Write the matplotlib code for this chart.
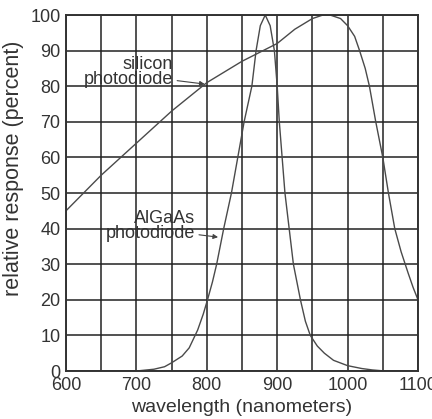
import matplotlib.pyplot as plt

plt.rcParams['font.family'] = ['Liberation Sans', 'DejaVu Sans']

# silicon photodiode response
si_nm = [600, 625, 650, 675, 700, 725, 750, 775, 800, 825, 850, 875, 900, 925,
         950, 965, 975, 990, 1000, 1010, 1017, 1025, 1031, 1040, 1050, 1058,
         1067, 1076, 1086, 1093, 1100]
si_pct = [45, 50, 55, 59.5, 64, 68.5, 73, 77, 81, 84, 87, 89.5, 92, 96,
          99, 100, 100, 99, 97, 94, 90, 85, 80, 70, 60, 50,
          40, 33.5, 27.5, 23.5, 20]

# AlGaAs photodiode response
al_nm = [700, 725, 740, 750, 765, 775, 787, 795, 801, 808, 814, 824, 835, 844,
         853, 864, 870, 876, 883, 890, 896, 900, 903, 907, 911, 917, 923, 933,
         940, 947, 957, 967, 980, 1000, 1020, 1035, 1053]
al_pct = [0, 0.5, 1.2, 2.3, 4.2, 6.5, 11.5, 16, 20, 25, 30, 40, 50, 60,
          70, 80, 90, 97, 100, 97, 90, 80, 70, 60, 50, 40, 30, 20,
          14, 10, 7, 5, 3, 1.5, 0.7, 0.3, 0]

xticks = [600, 700, 800, 900, 1000, 1100]
yticks = [0, 10, 20, 30, 40, 50, 60, 70, 80, 90, 100]

fig = plt.figure(figsize=(4.32, 4.19), dpi=100)
ax = fig.add_axes([66 / 432, 48 / 419, 352 / 432, 356 / 419])

ax.set_xlim(600, 1100)
ax.set_ylim(0, 100)
grid_x = list(range(600, 1101, 50))
ax.set_xticks(grid_x)
ax.set_xticklabels([str(v) if v in xticks else '' for v in grid_x])
ax.set_yticks(yticks)
ax.set_yticklabels([str(v) for v in yticks])
ax.grid(True, color='#222222', linewidth=1.1)
ax.set_axisbelow(True)
ax.tick_params(length=0, labelsize=13, colors='#333333', pad=4)
for s in ax.spines.values():
    s.set_color('#333333')
    s.set_linewidth(1.4)

ax.plot(si_nm, si_pct, color='#4a4a4a', linewidth=1.0)
ax.plot(al_nm, al_pct, color='#4a4a4a', linewidth=1.0)

arrow = dict(arrowstyle='-|>', color='#444444', lw=0.8, shrinkA=1, shrinkB=0,
             mutation_scale=7, relpos=(1.0, 0.25))
ax.annotate('silicon\nphotodiode', xy=(797, 80.6), xytext=(752, 84),
            ha='right', va='center', multialignment='right', fontsize=13,
            color='#333333', linespacing=0.9, arrowprops=arrow)
ax.annotate('AlGaAs\nphotodiode', xy=(816, 37.6), xytext=(783, 40.7),
            ha='right', va='center', multialignment='right', fontsize=13,
            color='#333333', linespacing=0.9, arrowprops=arrow)

ax.set_xlabel('wavelength (nanometers)', fontsize=14, color='#333333', labelpad=4)
ax.set_ylabel('relative response (percent)', fontsize=15.5, color='#333333')
ax.yaxis.set_label_coords(-0.118, 0.57)

fig.savefig('out.png', dpi=100, facecolor='white')
